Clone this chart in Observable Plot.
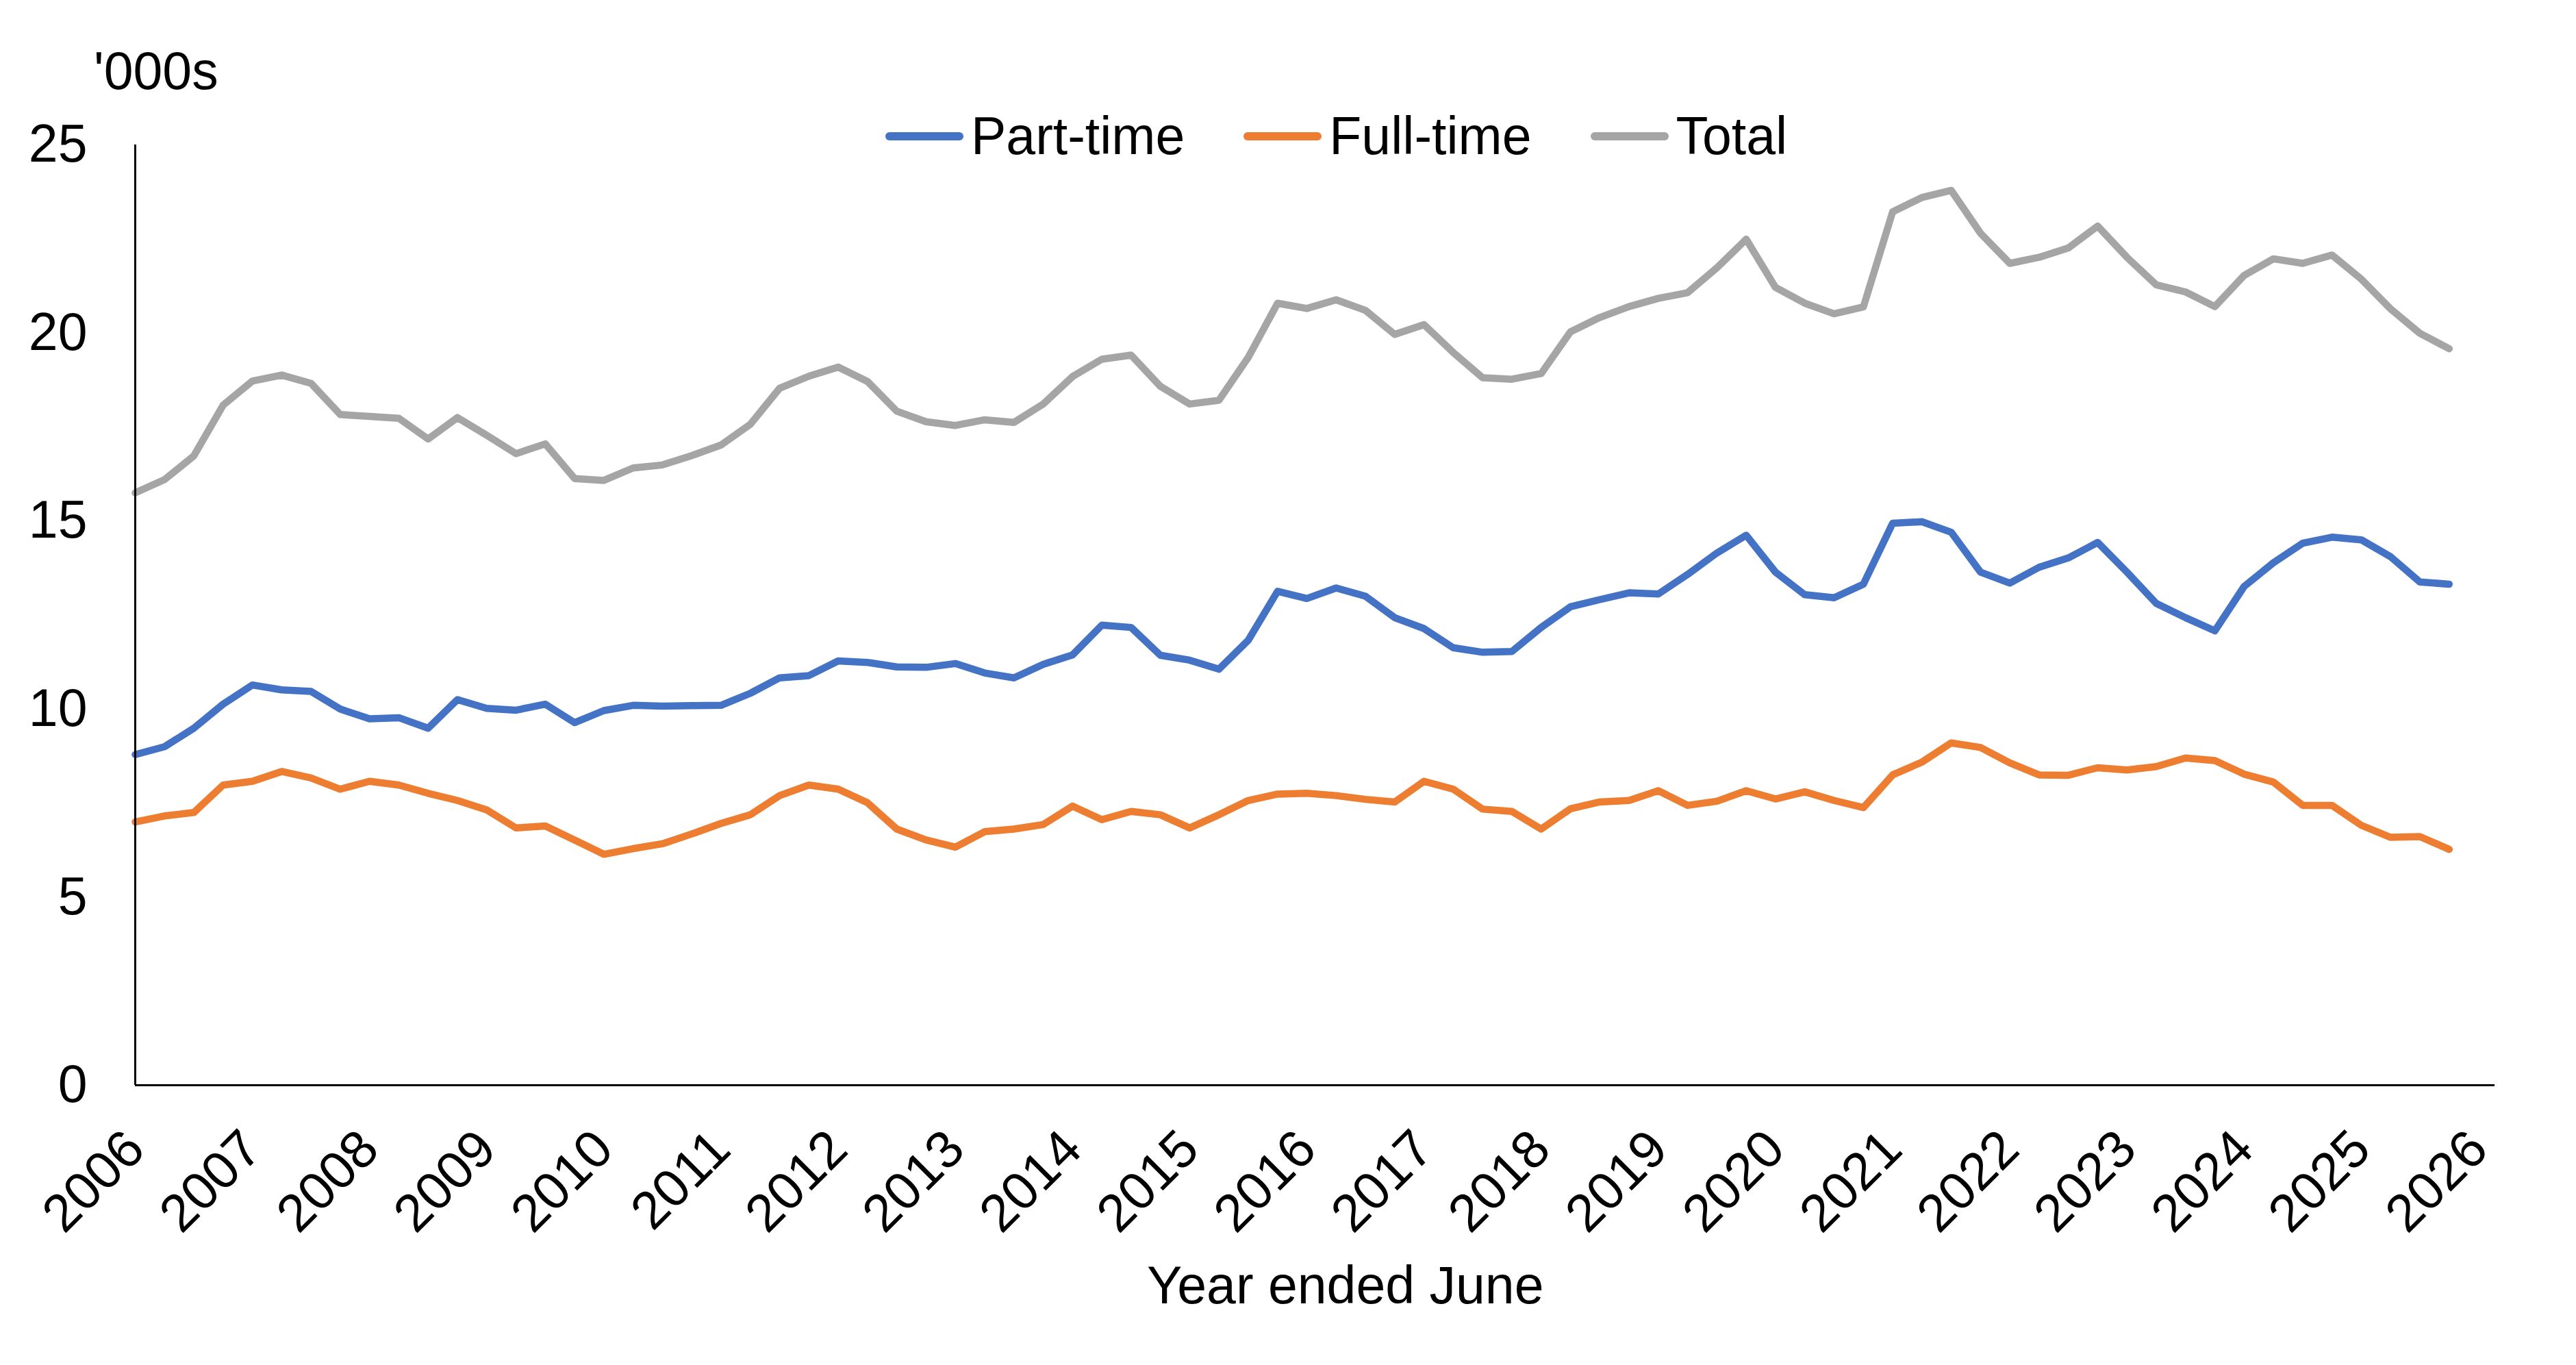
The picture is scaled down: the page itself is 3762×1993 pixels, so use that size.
<!DOCTYPE html>
<html><head><meta charset="utf-8">
<script src="https://cdn.jsdelivr.net/npm/d3@7"></script>
<script src="https://cdn.jsdelivr.net/npm/@observablehq/plot@0.6"></script>
<style>
html,body{margin:0;padding:0;background:#fff;}
#wrap{position:relative;width:3762px;height:1993px;font-family:"Liberation Sans",Arial,sans-serif;color:#000;overflow:hidden;}
.lbl{position:absolute;font-size:77px;line-height:77px;white-space:nowrap;}
#legend{position:absolute;left:1293px;top:160px;display:flex;align-items:center;font-size:77px;line-height:77px;white-space:nowrap;}
.item{display:flex;align-items:center;margin-right:86px;}
.sw{display:inline-block;width:114px;height:12px;border-radius:6px;margin-right:11px;}
</style></head><body>
<div id="wrap"></div>
<script>
// ---- data ----
const startYear = 2006;           // first quarter of the series
const seriesNames = ["Part-time", "Full-time", "Total"];
const seriesColors = ["#4472C4", "#ED7D31", "#A5A5A5"];
const partTime = [8.79, 9.00, 9.49, 10.13, 10.64, 10.51, 10.47, 10.00, 9.74, 9.77, 9.49, 10.25, 10.02, 9.97, 10.13, 9.64, 9.96, 10.10, 10.08, 10.09, 10.10,
  10.42, 10.83, 10.89, 11.28, 11.24, 11.12, 11.11, 11.21, 10.96, 10.83, 11.19, 11.44, 12.23, 12.17, 11.43, 11.30, 11.06, 11.83, 13.13, 12.94, 13.22,
  13.00, 12.43, 12.14, 11.63, 11.51, 11.53, 12.17, 12.72, 12.91, 13.09, 13.06, 13.58, 14.15, 14.62, 13.64, 13.04, 12.96, 13.32,
  14.94, 14.98, 14.70, 13.64, 13.35, 13.77, 14.02, 14.43, 13.64, 12.81, 12.43, 12.08, 13.26, 13.89, 14.41, 14.57, 14.50, 14.05, 13.38, 13.32];
const fullTime = [7.00, 7.16, 7.25, 7.98, 8.08, 8.34, 8.17, 7.87, 8.08, 7.98, 7.76, 7.57, 7.32, 6.84, 6.89, 6.52, 6.14, 6.29, 6.42, 6.68, 6.96,
  7.19, 7.70, 7.98, 7.87, 7.51, 6.81, 6.52, 6.33, 6.74, 6.81, 6.93, 7.42, 7.06, 7.28, 7.19, 6.84, 7.19, 7.57, 7.74, 7.76, 7.70,
  7.60, 7.53, 8.08, 7.87, 7.34, 7.28, 6.81, 7.35, 7.53, 7.57, 7.83, 7.44, 7.55, 7.83, 7.61, 7.80, 7.57, 7.38,
  8.25, 8.59, 9.10, 8.98, 8.57, 8.25, 8.24, 8.44, 8.38, 8.47, 8.70, 8.63, 8.27, 8.06, 7.44, 7.44, 6.91, 6.59, 6.61, 6.27];
const total = [15.75, 16.10, 16.73, 18.08, 18.72, 18.88, 18.66, 17.83, 17.78, 17.73, 17.18, 17.75, 17.28, 16.79, 17.05, 16.13, 16.08, 16.41, 16.49, 16.74, 17.02,
  17.57, 18.53, 18.85, 19.09, 18.71, 17.92, 17.64, 17.54, 17.69, 17.62, 18.11, 18.84, 19.30, 19.41, 18.58, 18.11, 18.21, 19.35, 20.79, 20.65, 20.88,
  20.60, 19.96, 20.22, 19.48, 18.81, 18.77, 18.92, 20.03, 20.41, 20.70, 20.92, 21.07, 21.73, 22.49, 21.21, 20.79, 20.51, 20.69,
  23.22, 23.60, 23.79, 22.65, 21.85, 22.01, 22.26, 22.84, 22.01, 21.28, 21.09, 20.70, 21.53, 21.97, 21.85, 22.07, 21.43, 20.64, 19.99, 19.58];
const xTicks = [2006, 2007, 2008, 2009, 2010, 2011, 2012, 2013, 2014, 2015, 2016, 2017, 2018, 2019, 2020, 2021, 2022, 2023, 2024, 2025, 2026];
const yTicks = [0, 5, 10, 15, 20, 25];
const unitLabel = "'000s";
const xTitle = "Year ended June";

// ---- table for the library ----
const seriesValues = [partTime, fullTime, total];
const rows = [];
seriesNames.forEach((name, s) => {
  seriesValues[s].forEach((v, i) => rows.push({series: name, x: startYear + i / 4, value: v}));
});

const xDomain = [startYear, 2026.14];
const chart = Plot.plot({
  width: 3762, height: 1993,
  marginLeft: 197, marginRight: 119, marginTop: 211, marginBottom: 409,
  style: {fontFamily: '"Liberation Sans", Arial, sans-serif', fontSize: "77px", color: "#000", background: "#fff", overflow: "visible"},
  x: {domain: xDomain, label: null},
  y: {domain: [0, 25], label: null},
  color: {domain: seriesNames, range: seriesColors},
  marks: [
    Plot.axisY({ticks: yTicks, tickSize: 0, tickPadding: 70, label: null}),
    Plot.axisX({ticks: xTicks, tickSize: 0, tickPadding: 80, tickRotate: -45, tickFormat: d => String(d), label: null}),
    Plot.line(rows, {x: "x", y: "value", z: "series", stroke: "series", strokeWidth: 10.5, strokeLinejoin: "round", strokeLinecap: "round"}),
    Plot.ruleX([xDomain[0]], {stroke: "#000", strokeWidth: 3}),
    Plot.ruleY([0], {stroke: "#000", strokeWidth: 3})
  ]
});

const wrap = document.getElementById("wrap");
wrap.appendChild(chart);

const yl = document.createElement("div");
yl.className = "lbl"; yl.style.left = "137px"; yl.style.top = "65px"; yl.textContent = unitLabel;
wrap.appendChild(yl);

const xl = document.createElement("div");
xl.className = "lbl"; xl.style.left = "1675px"; xl.style.top = "1838px"; xl.textContent = xTitle;
wrap.appendChild(xl);

const lg = document.createElement("div");
lg.id = "legend";
seriesNames.forEach((name, s) => {
  const it = document.createElement("div"); it.className = "item";
  const sw = document.createElement("span"); sw.className = "sw"; sw.style.background = seriesColors[s];
  const tx = document.createElement("span"); tx.textContent = name;
  it.appendChild(sw); it.appendChild(tx); lg.appendChild(it);
});
wrap.appendChild(lg);
</script>
</body></html>
